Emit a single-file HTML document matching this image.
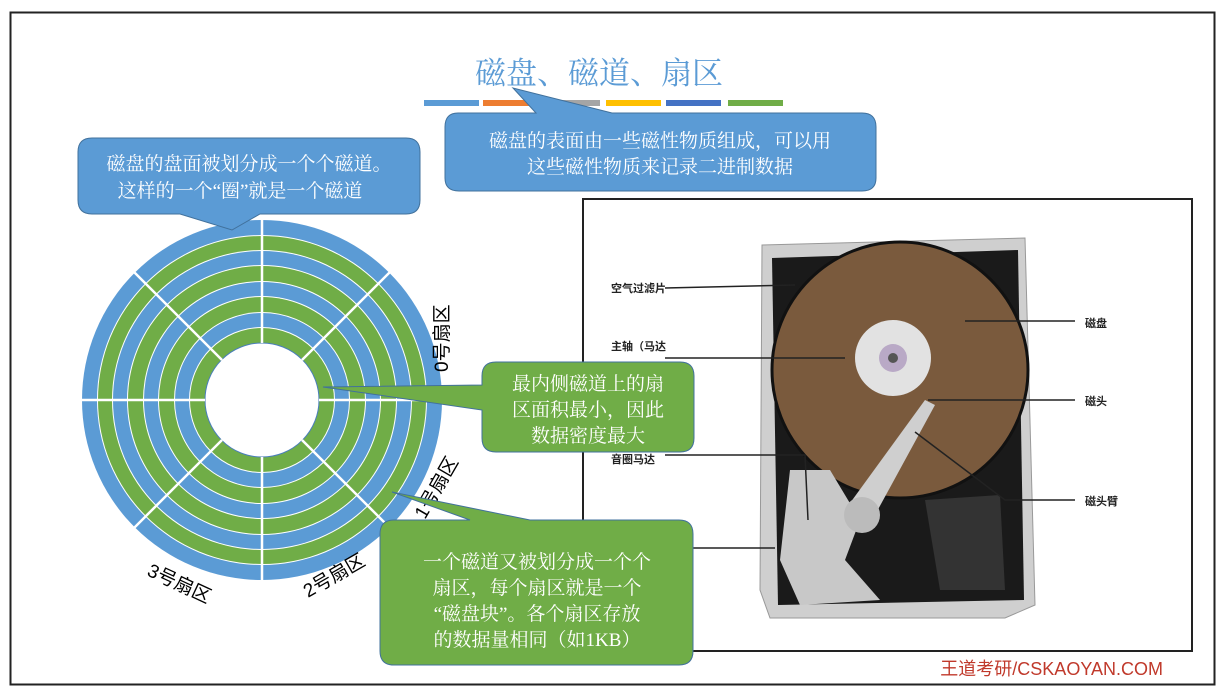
<!DOCTYPE html>
<html><head><meta charset="utf-8"><style>
body{margin:0;background:#fff;width:1225px;height:695px;overflow:hidden;font-family:"Liberation Sans","Noto Sans CJK SC",sans-serif}
svg text{font-family:"Liberation Sans","Noto Sans CJK SC",sans-serif}
svg text.sr{font-family:"Liberation Serif","Noto Serif CJK SC",serif}
</style></head><body>
<svg width="1225" height="695" viewBox="0 0 1225 695" xmlns="http://www.w3.org/2000/svg">
<rect x="0" y="0" width="1225" height="695" fill="#fff"/>
<rect x="10.5" y="12.5" width="1204" height="672" fill="none" stroke="#222" stroke-width="2"/>
<!-- title -->
<text class="sr" x="599" y="84" font-size="31" fill="#5b9bd5" text-anchor="middle">磁盘、磁道、扇区</text>
<g>
<rect x="424" y="100" width="55" height="6" fill="#5b9bd5"/>
<rect x="483" y="100" width="55" height="6" fill="#ed7d31"/>
<rect x="543" y="100" width="57" height="6" fill="#a5a5a5"/>
<rect x="606" y="100" width="55" height="6" fill="#ffc000"/>
<rect x="666" y="100" width="55" height="6" fill="#4472c4"/>
<rect x="728" y="100" width="55" height="6" fill="#70ad47"/>
</g>
<!-- disk -->
<g transform="translate(262,400)">
<circle r="180" fill="#5b9bd5"/>
<circle r="165" fill="#fff"/><circle r="164" fill="#70ad47"/>
<circle r="150" fill="#fff"/><circle r="149" fill="#5b9bd5"/>
<circle r="135" fill="#fff"/><circle r="134" fill="#70ad47"/>
<circle r="119" fill="#fff"/><circle r="118" fill="#5b9bd5"/>
<circle r="104" fill="#fff"/><circle r="103" fill="#70ad47"/>
<circle r="88" fill="#fff"/><circle r="87" fill="#5b9bd5"/>
<circle r="73" fill="#fff"/><circle r="72" fill="#70ad47"/>
<circle r="57" fill="#fff" stroke="#4a7ebb" stroke-width="1"/>
<g stroke="#fff" stroke-width="2.5">
<line x1="0" y1="-57" x2="0" y2="-181"/><line x1="0" y1="57" x2="0" y2="181"/>
<line x1="57" y1="0" x2="181" y2="0"/><line x1="-57" y1="0" x2="-181" y2="0"/>
<line x1="40" y1="-40" x2="128" y2="-128"/><line x1="-40" y1="-40" x2="-128" y2="-128"/>
<line x1="40" y1="40" x2="128" y2="128"/><line x1="-40" y1="40" x2="-128" y2="128"/>
</g>
</g>
<text font-size="19" fill="#000" transform="translate(448,372) rotate(-90)">0号扇区</text>
<text font-size="19" fill="#000" transform="translate(425,520) rotate(-60)">1号扇区</text>
<text font-size="19" fill="#000" transform="translate(308,598) rotate(-30)">2号扇区</text>
<text font-size="19" fill="#000" transform="translate(146,575) rotate(25)">3号扇区</text>
<!-- photo -->
<rect x="583" y="199" width="609" height="452" fill="#fff" stroke="#222" stroke-width="2"/>
<g>
<path d="M762 245 L1025 238 L1035 605 L1005 618 L770 618 L760 590 Z" fill="#cfcfcf" stroke="#999"/>
<path d="M772 258 L1018 250 L1024 600 L778 605 Z" fill="#1a1a1a"/>
<circle cx="900" cy="370" r="128" fill="#7a5a3d"/>
<circle cx="900" cy="370" r="128" fill="none" stroke="#111" stroke-width="3"/>
<circle cx="893" cy="358" r="38" fill="#e2e2e2"/>
<circle cx="893" cy="358" r="14" fill="#b9a9c6"/>
<circle cx="893" cy="358" r="5" fill="#555"/>
<path d="M790 470 L830 470 L860 520 L845 560 L880 600 L800 605 L780 560 Z" fill="#c8c8c8"/>
<path d="M845 510 L925 400 L935 405 L875 515 Z" fill="#cfcfcf"/>
<circle cx="862" cy="515" r="18" fill="#bbb"/>
<path d="M925 500 L1000 495 L1005 590 L940 590 Z" fill="#333"/>
</g>
<g font-size="11" font-weight="bold" fill="#222">
<text x="611" y="292">空气过滤片</text>
<text x="611" y="350">主轴（马达</text>
<text x="611" y="463">音圈马达</text>
<text x="1085" y="327">磁盘</text>
<text x="1085" y="405">磁头</text>
<text x="1085" y="505">磁头臂</text>
</g>
<g stroke="#222" stroke-width="1.5" fill="none">
<line x1="665" y1="288" x2="795" y2="285"/>
<line x1="665" y1="358" x2="845" y2="358"/>
<line x1="965" y1="321" x2="1075" y2="321"/>
<line x1="928" y1="400" x2="1075" y2="400"/>
<polyline points="665,455 805,455 808,520"/>
<polyline points="915,432 1005,500 1075,500"/>
<line x1="693" y1="548" x2="775" y2="548"/>
</g>
<text x="1163" y="675" font-size="18" fill="#c0392b" text-anchor="end">王道考研/CSKAOYAN.COM</text>
<!-- callouts -->
<g stroke="#41719c" stroke-width="1">
<path d="M458 113 L536 113 L513 88 L612 113 L862 113 Q876 113 876 127 L876 178 Q876 191 862 191 L459 191 Q445 191 445 178 L445 127 Q445 113 458 113 Z" fill="#5b9bd5"/>
<path d="M92 138 L406 138 Q420 138 420 152 L420 200 Q420 214 406 214 L260 214 L232 230 L180 214 L92 214 Q78 214 78 200 L78 152 Q78 138 92 138 Z" fill="#5b9bd5"/>
</g>
<g stroke="#41719c" stroke-width="1" fill="#70ad47">
<path d="M496 362 L680 362 Q694 362 694 376 L694 438 Q694 452 680 452 L496 452 Q482 452 482 438 L482 410 L323 387 L482 385 L482 376 Q482 362 496 362 Z"/>
<path d="M394 520 L470 520 L392 492 L530 520 L679 520 Q693 520 693 534 L693 651 Q693 665 679 665 L394 665 Q380 665 380 651 L380 534 Q380 520 394 520 Z"/>
</g>
<g fill="#fff" font-size="19" text-anchor="middle">
<text class="sr" x="660" y="147">磁盘的表面由一些磁性物质组成，可以用</text>
<text class="sr" x="660" y="173">这些磁性物质来记录二进制数据</text>
<text class="sr" x="249" y="170">磁盘的盘面被划分成一个个磁道。</text>
<text class="sr" x="240" y="197">这样的一个“圈”就是一个磁道</text>
<text class="sr" x="588" y="390">最内侧磁道上的扇</text>
<text class="sr" x="588" y="416">区面积最小，因此</text>
<text class="sr" x="588" y="442">数据密度最大</text>
<text class="sr" x="537" y="568">一个磁道又被划分成一个个</text>
<text class="sr" x="537" y="594">扇区，每个扇区就是一个</text>
<text class="sr" x="537" y="620">“磁盘块”。各个扇区存放</text>
<text class="sr" x="537" y="646">的数据量相同（如1KB）</text>
</g>
</svg>
</body></html>
